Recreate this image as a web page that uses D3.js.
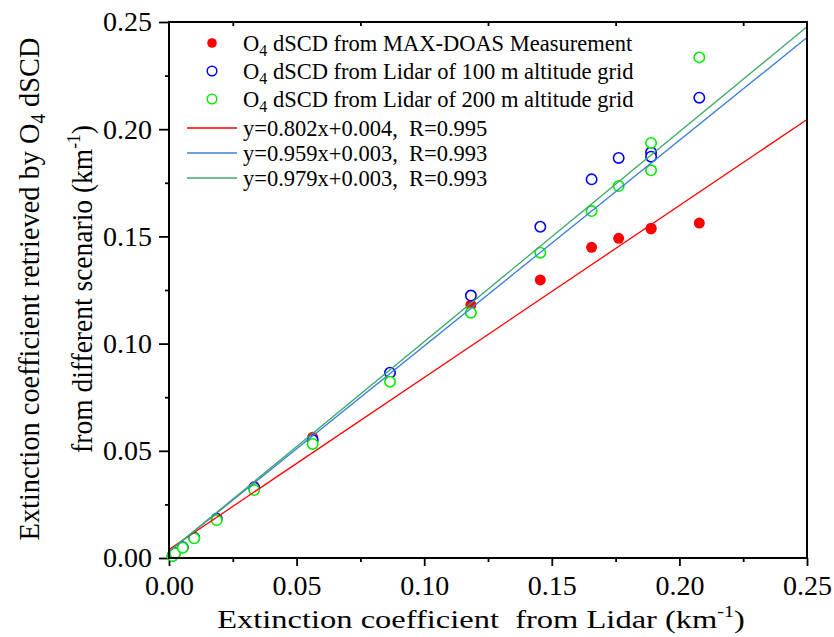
<!DOCTYPE html>
<html>
<head>
<meta charset="utf-8">
<script src="https://cdn.jsdelivr.net/npm/d3@7"></script>
<style>
  body { margin: 0; background: #fff; }
  svg { display: block; }
  svg text { font-family: "Liberation Serif", "Times New Roman", serif; fill: #000; }
  .tick text { font-size: 28px; }
  .tick line { stroke: #000; stroke-width: 1.8; }
</style>
</head>
<body>
<script>
// lidar extinction (x) and retrieved extinction (y) for each scenario, km^-1
const lidarExt   = [0.0014, 0.0024, 0.0054, 0.0099, 0.0187, 0.0334, 0.0563, 0.0866, 0.1183, 0.1455, 0.1656, 0.1762, 0.1889, 0.1889, 0.2078];
const maxDoasExt = [0.0010, 0.0022, 0.0050, 0.0094, 0.0185, 0.0333, 0.0563, 0.0862, 0.1180, 0.1297, 0.1449, 0.1491, 0.1538, 0.1535, 0.1562];
const grid100Ext = [0.0010, 0.0023, 0.0050, 0.0095, 0.0183, 0.0328, 0.0550, 0.0864, 0.1224, 0.1545, 0.1766, 0.1866, 0.1892, 0.1872, 0.2147];
const grid200Ext = [0.0009, 0.0022, 0.0048, 0.0092, 0.0177, 0.0317, 0.0532, 0.0822, 0.1144, 0.1424, 0.1618, 0.1735, 0.1936, 0.1808, 0.2335];

// linear fits as given in the legend
const fits = [
  {slope: 0.802, icpt: 0.004, r: "0.995", color: "#ff0000"},
  {slope: 0.959, icpt: 0.003, r: "0.993", color: "#3a7fdc"},
  {slope: 0.979, icpt: 0.003, r: "0.993", color: "#3fa866"}
];

const scatterSeries = [
  {name: "MAX-DOAS Measurement", values: maxDoasExt, color: "#ff0000", filled: true},
  {name: "Lidar of 100 m altitude grid", values: grid100Ext, color: "#0000ff", filled: false},
  {name: "Lidar of 200 m altitude grid", values: grid200Ext, color: "#00ee00", filled: false}
];

const majorTicks = [0, 0.05, 0.10, 0.15, 0.20, 0.25];
const minorTicks = [0.025, 0.075, 0.125, 0.175, 0.225];

let margin = {top: 22, right: 27, bottom: 79, left: 169}
  , width = 834 - margin.left - margin.right
  , height = 637 - margin.top - margin.bottom;

let xScale = d3.scaleLinear().domain([0, 0.25]).range([0, width]);
let yScale = d3.scaleLinear().domain([0, 0.25]).range([height, 0]);

const svgRoot = d3.select("body").append("svg")
    .attr("width", 834)
    .attr("height", 637);
const svg = svgRoot.append("g")
    .attr("transform", "translate(" + margin.left + "," + margin.top + ")");

const fmt = d3.format(".2f");

// bottom axis, major + minor
svg.append("g")
    .attr("class", "axis")
    .attr("transform", "translate(0," + height + ")")
    .call(d3.axisBottom(xScale).tickValues(majorTicks).tickFormat(fmt).tickSize(8).tickPadding(9));
svg.append("g")
    .attr("class", "axis")
    .attr("transform", "translate(0," + height + ")")
    .call(d3.axisBottom(xScale).tickValues(minorTicks).tickFormat("").tickSize(4));

// left axis, major + minor
svg.append("g")
    .attr("class", "axis")
    .call(d3.axisLeft(yScale).tickValues(majorTicks).tickFormat(fmt).tickSize(10).tickPadding(7));
svg.append("g")
    .attr("class", "axis")
    .call(d3.axisLeft(yScale).tickValues(minorTicks).tickFormat("").tickSize(4));

// top axis: only minor ticks pointing inward
svg.append("g")
    .attr("class", "axis")
    .call(d3.axisTop(xScale).tickValues(minorTicks).tickFormat("").tickSize(-4));

svg.selectAll(".axis")
    .attr("font-family", null)
    .attr("font-size", null)
    .call(g => g.select(".domain").remove());

// scatter points (open circles are white filled, like the original)
scatterSeries.forEach(function(s) {
  svg.selectAll(null)
      .data(s.values)
    .enter().append("circle")
      .attr("cx", (d, i) => xScale(lidarExt[i]))
      .attr("cy", d => yScale(d))
      .attr("r", s.filled ? 5.5 : 5.2)
      .attr("fill", s.filled ? s.color : "#fff")
      .attr("stroke", s.color)
      .attr("stroke-width", s.filled ? 0 : 1.6);
});

// fit lines on top of the points
svg.selectAll(".fit")
    .data(fits)
  .enter().append("line")
    .attr("class", "fit")
    .attr("x1", xScale(0))
    .attr("y1", d => yScale(d.icpt))
    .attr("x2", xScale(0.25))
    .attr("y2", d => yScale(d.slope * 0.25 + d.icpt))
    .attr("stroke", d => d.color)
    .attr("stroke-width", 1.3);

// frame
svg.append("rect")
    .attr("width", width)
    .attr("height", height)
    .attr("fill", "none")
    .attr("stroke", "#000")
    .attr("stroke-width", 2);

// legend
const legend = svgRoot.append("g").style("font-size", "22.5px");
const legX = 212, textX = 243;
const rowY = [43, 71, 99, 128, 153, 178];

scatterSeries.forEach(function(s, i) {
  legend.append("circle")
      .attr("cx", legX).attr("cy", rowY[i])
      .attr("r", 4.8)
      .attr("fill", s.filled ? s.color : "none")
      .attr("stroke", s.color)
      .attr("stroke-width", s.filled ? 0 : 1.5);
  const t = legend.append("text")
      .attr("x", textX).attr("y", rowY[i]).attr("dy", "0.35em");
  t.append("tspan").text("O");
  t.append("tspan").attr("font-size", "16px").attr("dy", 5).text("4");
  t.append("tspan").attr("dy", -5).text(" dSCD from " + s.name);
});

fits.forEach(function(f, i) {
  const y = rowY[i + 3];
  legend.append("line")
      .attr("x1", 187).attr("x2", 237)
      .attr("y1", y).attr("y2", y)
      .attr("stroke", f.color)
      .attr("stroke-width", 1.3);
  legend.append("text")
      .attr("x", textX).attr("y", y).attr("dy", "0.35em")
      .attr("xml:space", "preserve")
      .text("y=" + f.slope.toFixed(3) + "x+" + f.icpt.toFixed(3) + ",  R=" + f.r);
});

// squeeze or stretch a label so it spans a given length
function fitTo(g, text, len) {
  const w = text.node().getComputedTextLength();
  g.attr("transform", g.attr("transform") + " scale(" + (len / w) + ",1)");
}

// x axis title
const xt = svgRoot.append("g").attr("transform", "translate(481,628)");
const xtText = xt.append("text")
    .attr("text-anchor", "middle")
    .attr("xml:space", "preserve")
    .style("font-size", "26px");
xtText.append("tspan").text("Extinction coefficient  from Lidar (km");
xtText.append("tspan").attr("font-size", "16px").attr("dy", -11).text("-1");
xtText.append("tspan").attr("dy", 11).text(")");
fitTo(xt, xtText, 528);

// y axis title, two lines
const yt1 = svgRoot.append("g").attr("transform", "translate(39,289) rotate(-90)");
const yt1Text = yt1.append("text")
    .attr("text-anchor", "middle")
    .style("font-size", "30px");
yt1Text.append("tspan").text("Extinction coefficient retrieved by O");
yt1Text.append("tspan").attr("font-size", "20px").attr("dy", 6).text("4");
yt1Text.append("tspan").attr("dy", -6).text(" dSCD");
fitTo(yt1, yt1Text, 503);

const yt2 = svgRoot.append("g").attr("transform", "translate(92,289) rotate(-90)");
const yt2Text = yt2.append("text")
    .attr("text-anchor", "middle")
    .style("font-size", "30px");
yt2Text.append("tspan").text("from different scenario (km");
yt2Text.append("tspan").attr("font-size", "19px").attr("dy", -12).text("-1");
yt2Text.append("tspan").attr("dy", 12).text(")");
fitTo(yt2, yt2Text, 328);
</script>
</body>
</html>
